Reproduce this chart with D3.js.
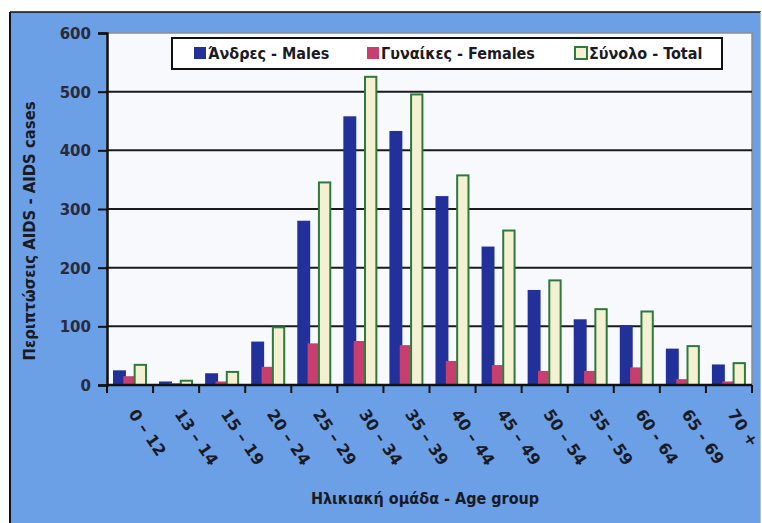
<!DOCTYPE html>
<html>
<head>
<meta charset="utf-8">
<script src="https://cdn.jsdelivr.net/npm/d3@7"></script>
<style>
  html, body { margin: 0; padding: 0; background: #ffffff; }
  svg { display: block; }
</style>
</head>
<body>
<svg id="chart" width="762" height="523"></svg>
<script>
// Age groups and AIDS cases by sex
const categories = ["0 – 12", "13 – 14", "15 – 19", "20 – 24", "25 – 29", "30 – 34", "35 – 39",
                    "40 – 44", "45 – 49", "50 – 54", "55 – 59", "60 - 64", "65 - 69", "70 +"];
const males   = [25, 6, 20, 74, 280, 458, 433, 322, 236, 162, 112, 102, 62, 35];
const females = [15, 3, 6, 31, 71, 75, 68, 41, 34, 24, 24, 30, 10, 6];
const totals  = [36, 9, 24, 100, 347, 527, 497, 359, 265, 180, 131, 127, 68, 39];
const yTicks  = [0, 100, 200, 300, 400, 500, 600];
const seriesNames = ["Άνδρες - Males", "Γυναίκες - Females", "Σύνολο - Total"];

const svg = d3.select("#chart");
const W = 762, H = 523;
const plot = { left: 107, right: 752, top: 33, bottom: 385 };
const FONT = "'DejaVu Sans Condensed', 'DejaVu Sans', sans-serif";

// outer panel
svg.append("rect").attr("x", 0).attr("y", 0).attr("width", W).attr("height", H).attr("fill", "#ffffff");
svg.append("rect").attr("x", 10).attr("y", 12).attr("width", 750).attr("height", H - 12)
  .attr("fill", "#6b9fe6");
svg.append("line").attr("x1", 10).attr("x2", 10).attr("y1", 12).attr("y2", H)
  .attr("stroke", "#111").attr("stroke-width", 2);
svg.append("line").attr("x1", 10).attr("x2", 761).attr("y1", 12).attr("y2", 12)
  .attr("stroke", "#111").attr("stroke-width", 1.5);
svg.append("line").attr("x1", 760.5).attr("x2", 760.5).attr("y1", 12).attr("y2", H)
  .attr("stroke", "#b8c4d4").attr("stroke-width", 1);

// plot area
svg.append("rect").attr("x", plot.left).attr("y", plot.top)
  .attr("width", plot.right - plot.left).attr("height", plot.bottom - plot.top)
  .attr("fill", "#f7f9fd").attr("stroke", "#8a8f99").attr("stroke-width", 1.5);

const x = d3.scaleBand().domain(categories).range([plot.left, plot.right]).padding(0);
const y = d3.scaleLinear().domain([0, 600]).range([plot.bottom, plot.top]);
const bw = x.bandwidth();
const keys = ["males", "females", "totals"];
const x1 = d3.scaleBand().domain(keys).range([bw * 0.13, bw * 0.868]).padding(0);
const b1 = x1.bandwidth();

// gridlines
svg.append("g").selectAll("line").data(yTicks.filter(t => t > 0 && t < 600)).join("line")
  .attr("x1", plot.left).attr("x2", plot.right)
  .attr("y1", d => y(d)).attr("y2", d => y(d))
  .attr("stroke", "#1a1a1a").attr("stroke-width", 2);

const rows = categories.map((c, i) => ({ c, males: males[i], females: females[i], totals: totals[i] }));

// male bars
svg.append("g").selectAll("rect").data(rows).join("rect")
  .attr("x", d => x(d.c) + x1("males"))
  .attr("width", b1 + 1.6)
  .attr("y", d => y(d.males))
  .attr("height", d => y(0) - y(d.males))
  .attr("fill", "#22309a");

// female bars
svg.append("g").selectAll("rect").data(rows).join("rect")
  .attr("x", d => x(d.c) + x1("females") - 1)
  .attr("width", b1 - 0.5)
  .attr("y", d => y(d.females))
  .attr("height", d => y(0) - y(d.females))
  .attr("fill", "#c83e6e");

// total bars (outlined)
svg.append("g").selectAll("rect").data(rows).join("rect")
  .attr("x", d => x(d.c) + x1("totals") - 1)
  .attr("width", b1)
  .attr("y", d => y(d.totals) + 1)
  .attr("height", d => Math.max(0, y(0) - y(d.totals) - 1))
  .attr("fill", "#f3f1d2")
  .attr("stroke", "#2e7a3c").attr("stroke-width", 2);

// y axis
const yAxis = d3.axisLeft(y).tickValues(yTicks).tickSize(9).tickPadding(7);
const gy = svg.append("g").attr("transform", `translate(${plot.left},0)`).call(yAxis);
gy.select(".domain").attr("stroke", "#111").attr("stroke-width", 2.5);
gy.selectAll(".tick line").attr("stroke", "#111").attr("stroke-width", 2);
gy.selectAll(".tick text")
  .attr("font-family", "'DejaVu Sans', sans-serif").attr("font-size", 15)
  .attr("fill", "#2a2a3a").attr("font-weight", "bold").attr("dy", "0.36em");

// x axis with ticks between groups
const gx = svg.append("g").attr("transform", `translate(0,${plot.bottom})`);
gx.append("line").attr("x1", plot.left).attr("x2", plot.right).attr("y1", 0).attr("y2", 0)
  .attr("stroke", "#111").attr("stroke-width", 2.5);
const bounds = categories.map(c => x(c)).concat([plot.right]);
gx.selectAll("line.tk").data(bounds).join("line").attr("class", "tk")
  .attr("x1", d => d).attr("x2", d => d).attr("y1", 0).attr("y2", 8)
  .attr("stroke", "#111").attr("stroke-width", 2);
gx.selectAll("text").data(categories).join("text")
  .attr("transform", d => `translate(${x(d) + bw / 2 - 2},${29}) rotate(56)`)
  .attr("text-anchor", "start")
  .attr("font-family", "'DejaVu Sans', sans-serif").attr("font-size", 16)
  .attr("font-weight", "bold").attr("fill", "#1a1a24")
  .text(d => d);

// axis titles
svg.append("text")
  .attr("transform", `translate(35,${(plot.top + plot.bottom) / 2 + 22}) rotate(-90)`)
  .attr("text-anchor", "middle")
  .attr("font-family", FONT).attr("font-size", 16.5).attr("font-weight", "bold").attr("fill", "#1a1a24")
  .text("Περιπτώσεις AIDS - AIDS cases");
svg.append("text")
  .attr("x", 425).attr("y", 504)
  .attr("text-anchor", "middle")
  .attr("font-family", FONT).attr("font-size", 16).attr("font-weight", "bold").attr("fill", "#1a1a24")
  .text("Ηλικιακή ομάδα - Age group");

// legend
const lg = svg.append("g");
lg.append("rect").attr("x", 172).attr("y", 38).attr("width", 550).attr("height", 31)
  .attr("fill", "#ffffff").attr("stroke", "#111").attr("stroke-width", 2);
const legendX = [193, 366, 574];
const legendFill = ["#22309a", "#c83e6e", "#f3f1d2"];
const legendStroke = ["none", "none", "#2e7a3c"];
seriesNames.forEach((name, i) => {
  lg.append("rect").attr("x", legendX[i] + 1).attr("y", 47).attr("width", 12).attr("height", 12)
    .attr("fill", legendFill[i]).attr("stroke", legendStroke[i]).attr("stroke-width", 2);
  lg.append("text").attr("x", legendX[i] + 15).attr("y", 59)
    .attr("font-family", FONT).attr("font-size", 16).attr("font-weight", "bold").attr("fill", "#1a1a24")
    .text(name);
});
</script>
</body>
</html>
